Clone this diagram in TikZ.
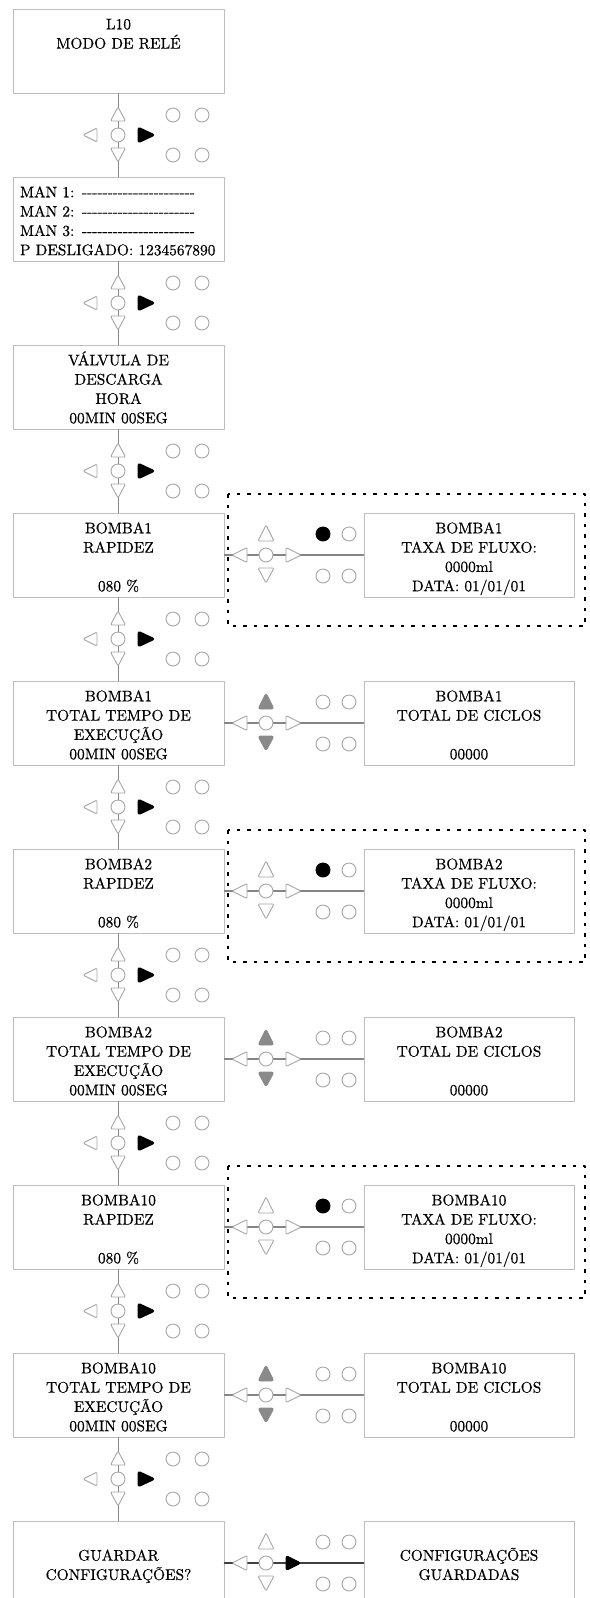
\documentclass[tikz,border=0pt]{standalone}
\usepackage{fontspec}
\setmainfont{lmroman10-regular}[Extension=.otf, FakeBold=0.5]
\usepackage{tikz}

\definecolor{framegrey}{HTML}{BDBDBD}
\definecolor{keygrey}{HTML}{A6A6A6}
\definecolor{wiregrey}{HTML}{858585}
\definecolor{tipgrey}{HTML}{8A8A8A}

\newcommand\panelfont{\fontsize{15.4}{19.3}\selectfont}
\newcommand\dashrun{\foreach \k in {1,...,22}{\hbox{-}}}

\tikzset{
  padkey/.style={draw=keygrey, fill=white, line width=0.9pt, rounded corners=1.2pt},
  solidkey/.style={draw=black, fill=black, line width=0.9pt, rounded corners=2.5pt},
  greykey/.style={draw=tipgrey, fill=tipgrey, line width=0.9pt, rounded corners=2.5pt},
  dotkey/.style={draw=black, fill=black, line width=0.9pt},
  % teclado vertical
  pics/vkeys/.style={code={
    \draw[padkey] (0,-28) -- (-7.5,-14) -- (7.5,-14) -- cycle;
    \draw[padkey] (0,27) -- (-7.5,13) -- (7.5,13) -- cycle;
    \draw[padkey] (-35,0) -- (-21,-7) -- (-21,7) -- cycle;
    \draw[solidkey] (20,-8) -- (37,0) -- (20,8) -- cycle;
    \draw[padkey] (0,0) circle (7pt);
    \foreach \cx in {55,84} \foreach \cy in {-20,20} \draw[padkey] (\cx,\cy) circle (7pt);
  }},
  % teclado horizontal
  pics/hkeys/.style n args={3}{code={
    \draw[#1] (0,-30) -- (-8,-14) -- (8,-14) -- cycle;
    \draw[#1] (0,28) -- (-8,13) -- (8,13) -- cycle;
    \draw[padkey] (-34,0) -- (-19,-7.5) -- (-19,7.5) -- cycle;
    \draw[#2] (20,-7.5) -- (35,0) -- (20,7.5) -- cycle;
    \draw[padkey] (0,0) circle (7pt);
    \draw[#3] (57,-21) circle (7pt);
    \draw[padkey] (83,-21) circle (7pt) (57,21) circle (7pt) (83,21) circle (7pt);
  }},
}

\begin{document}
\begin{tikzpicture}[x=1pt, y=-1pt, line cap=round, line join=round,
  screen/.style={draw=framegrey, line width=1pt, fill=white, minimum width=211pt,
    minimum height=84pt, inner sep=0pt, text width=195pt, align=center, font=\panelfont,
    execute at begin node={\rule{0pt}{20.3pt}}, execute at end node=\strut},
  wire/.style={draw=wiregrey, line width=1.3pt},
  dotframe/.style={draw=black, line width=2.4pt, dash pattern=on 3.5pt off 7pt, line cap=butt}]

\useasboundingbox (0,0) rectangle (589,1598);
\clip (0,0) rectangle (589,1598);

% Coluna principal
\node[screen] (relay) at (118.5,51) {L10\\MODO DE RELÉ\\~\\~};
\node[screen, text width=197pt, align=left] (manual) at (118.5,219) {MAN 1: \dashrun\\MAN 2: \dashrun\\MAN 3: \dashrun\\P~DESLIGADO:~1234567890};
\node[screen] (valve) at (118.5,387) {VÁLVULA DE\\DESCARGA\\HORA\\00MIN 00SEG};
\node[screen] (rate1) at (118.5,555) {BOMBA1\\RAPIDEZ\\~\\080 \%};
\node[screen] (runtime1) at (118.5,723) {BOMBA1\\TOTAL TEMPO DE\\EXECUÇÃO\\00MIN 00SEG};
\node[screen] (rate2) at (118.5,891) {BOMBA2\\RAPIDEZ\\~\\080 \%};
\node[screen] (runtime2) at (118.5,1059) {BOMBA2\\TOTAL TEMPO DE\\EXECUÇÃO\\00MIN 00SEG};
\node[screen] (rate10) at (118.5,1227) {BOMBA10\\RAPIDEZ\\~\\080 \%};
\node[screen] (runtime10) at (118.5,1395) {BOMBA10\\TOTAL TEMPO DE\\EXECUÇÃO\\00MIN 00SEG};
\node[screen] (save) at (118.5,1563) {~\\GUARDAR\\CONFIGURAÇÕES?\\~};

% Ecras laterais
\node[screen, minimum width=210pt] (flow1) at (469,555) {BOMBA1\\TAXA DE FLUXO:\\0000ml\\DATA: 01/01/01};
\node[screen, minimum width=210pt] (cycles1) at (469,723) {BOMBA1\\TOTAL DE CICLOS\\~\\00000};
\node[screen, minimum width=210pt] (flow2) at (469,891) {BOMBA2\\TAXA DE FLUXO:\\0000ml\\DATA: 01/01/01};
\node[screen, minimum width=210pt] (cycles2) at (469,1059) {BOMBA2\\TOTAL DE CICLOS\\~\\00000};
\node[screen, minimum width=210pt] (flow10) at (469,1227) {BOMBA10\\TAXA DE FLUXO:\\0000ml\\DATA: 01/01/01};
\node[screen, minimum width=210pt] (cycles10) at (469,1395) {BOMBA10\\TOTAL DE CICLOS\\~\\00000};
\node[screen, minimum width=210pt] (saved) at (469,1563) {~\\CONFIGURAÇÕES\\GUARDADAS\\~};

% Ligacoes
\foreach \a/\b in {relay/manual, manual/valve, valve/rate1, rate1/runtime1, runtime1/rate2,
  rate2/runtime2, runtime2/rate10, rate10/runtime10, runtime10/save}
  \draw[wire] (\a) -- (\b);
\foreach \a/\b in {rate1/flow1, runtime1/cycles1, rate2/flow2, runtime2/cycles2,
  rate10/flow10, runtime10/cycles10}
  \draw[wire] (\a) -- (\b);
\draw[wire, draw=black!75, line width=1.5pt] (save) -- (saved);

% Teclas
\foreach \y in {135,303,...,1479}
  \pic at (118,\y) {vkeys};
\foreach \y in {555,891,1227}
  \pic at (266,\y) {hkeys={padkey}{padkey}{dotkey}};
\foreach \y in {723,1059,1395}
  \pic at (266,\y) {hkeys={greykey}{padkey}{padkey}};
\pic at (266,1563) {hkeys={padkey}{solidkey}{padkey}};

% Molduras pontilhadas
\foreach \y in {494,830,1166}
  \draw[dotframe] (228,\y) rectangle (585,\y+132);

\end{tikzpicture}
\end{document}
